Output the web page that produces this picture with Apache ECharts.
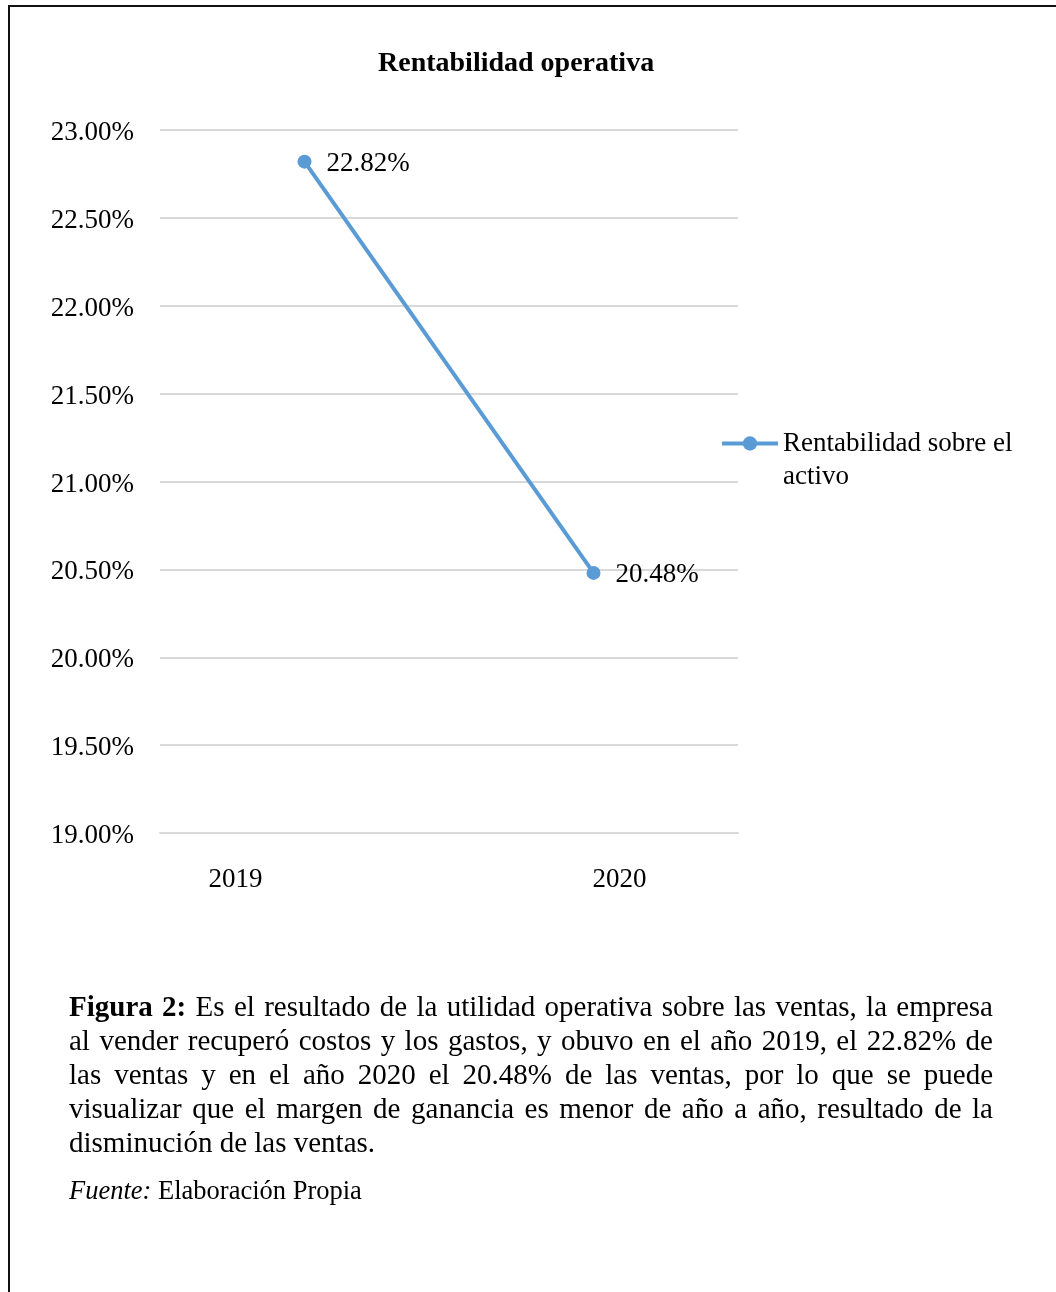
<!DOCTYPE html>
<html>
<head>
    <meta charset="utf-8">
    <title>Rentabilidad operativa</title>
    <script src="https://cdn.jsdelivr.net/npm/echarts@6/dist/echarts.min.js"></script>
    <style>
        body { margin: 0; background: #fff; font-family: "Liberation Serif", serif; }
        #frame { position: absolute; left: 8px; top: 5px; width: 1048px; height: 1287px;
                 border-top: 2px solid #111; border-left: 2px solid #111; }
        #chart1 { position: absolute; left: 0; top: 0; width: 1056px; height: 1292px; }
        #caption { position: absolute; left: 69px; top: 989px; width: 924px;
                   font-size: 29px; line-height: 34px; color: #000; }
        #caption div { text-align: justify; text-align-last: justify; white-space: nowrap; }
        #caption div.last { text-align-last: left; }
        #fuente { position: absolute; left: 69px; top: 1175px; font-size: 26.5px; color: #000; }
    </style>
</head>
<body>
<div id="chart1"></div>
<div id="frame"></div>
<div id="caption">
    <div><b>Figura 2:</b> Es el resultado de la utilidad operativa sobre las ventas, la empresa</div>
    <div>al vender recuperó costos y los gastos, y obuvo en el año 2019, el 22.82% de</div>
    <div>las ventas y en el año 2020 el 20.48% de las ventas, por lo que se puede</div>
    <div>visualizar que el margen de ganancia es menor de año a año, resultado de la</div>
    <div class="last">disminución de las ventas.</div>
</div>
<div id="fuente"><i>Fuente:</i> Elaboración Propia</div>
<script type="text/javascript">
    // datos del gráfico
    var years = ['2019', '2020'];
    var rentabilidad = [22.82, 20.48];
    var serieNombre = 'Rentabilidad sobre el activo';
    var yMin = 19, yMax = 23, yPaso = 0.5;

    var fuente = '"Liberation Serif", "Times New Roman", serif';

    echarts.init(document.getElementById('chart1')).setOption({
        animation: false,
        title: {
            text: 'Rentabilidad operativa',
            left: 378,
            top: 50,
            padding: 0,
            textStyle: { fontFamily: fuente, fontSize: 28, fontWeight: 'bold', color: '#000' }
        },
        legend: {
            data: [serieNombre],
            left: 720,
            top: 394,
            padding: 0,
            itemWidth: 56,
            itemHeight: 18,
            itemGap: 4,
            lineStyle: { width: 4 },
            // linea vacia arriba para que la primera linea quede al nivel del icono
            formatter: function () { return '\u00a0\nRentabilidad sobre el\nactivo'; },
            textStyle: { fontFamily: fuente, fontSize: 27, color: '#000', lineHeight: 33 }
        },
        grid: { left: 160, right: 318, top: 130, bottom: 459 },
        xAxis: {
            type: 'category',
            data: years,
            axisLine: { lineStyle: { color: '#d9d9d9', width: 2 } },
            axisTick: { show: false },
            axisLabel: {
                margin: 33,
                formatter: function (v) {
                    return v === years[0] ? '{a|' + v + '}' : '{b|' + v + '}';
                },
                rich: {
                    a: { fontFamily: fuente, fontSize: 27, color: '#000', padding: [0, 138, 0, 0] },
                    b: { fontFamily: fuente, fontSize: 27, color: '#000', padding: [0, 0, 0, 52] }
                }
            }
        },
        yAxis: {
            type: 'value',
            min: yMin,
            max: yMax,
            interval: yPaso,
            axisLine: { show: false },
            axisTick: { show: false },
            splitLine: { lineStyle: { color: '#d9d9d9', width: 2 } },
            axisLabel: {
                margin: 26,
                formatter: function (v) { return '{v|' + v.toFixed(2) + '%}'; },
                rich: {
                    v: { fontFamily: fuente, fontSize: 27, color: '#000', padding: [6, 0, 0, 0] }
                }
            }
        },
        series: [{
            name: serieNombre,
            type: 'line',
            data: rentabilidad,
            symbol: 'circle',
            symbolSize: 14,
            itemStyle: { color: '#5b9bd5' },
            lineStyle: { color: '#5b9bd5', width: 4 },
            label: {
                show: true,
                position: 'right',
                distance: 15,
                offset: [0, 2],
                fontFamily: fuente, fontSize: 27, color: '#000',
                formatter: function (p) { return p.value.toFixed(2) + '%'; }
            }
        }]
    });
</script>
</body>
</html>
